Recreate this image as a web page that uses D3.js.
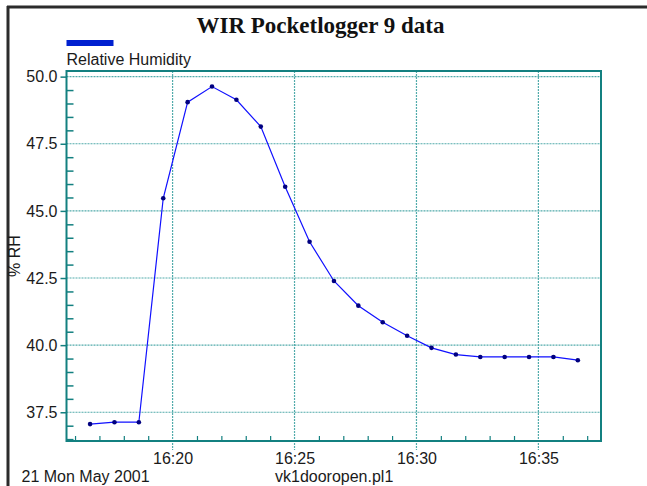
<!DOCTYPE html>
<html>
<head>
<meta charset="utf-8">
<script src="https://cdn.jsdelivr.net/npm/d3@7/dist/d3.min.js"></script>
<style>
  html, body { margin: 0; padding: 0; background: #fff; }
  svg { display: block; }
  text { font-family: "Liberation Sans", Arial, sans-serif; }
</style>
</head>
<body>
<svg id="chart" width="647" height="486"></svg>
<script>
// ---- data ----
const title = "WIR Pocketlogger 9 data";
const seriesName = "Relative Humidity";
const yLabel = "% RH";
const dateLabel = "21 Mon May 2001";
const fileLabel = "vk1dooropen.pl1";

const times = ["16:16:37","16:17:37","16:18:37","16:19:37","16:20:37","16:21:37","16:22:37",
               "16:23:37","16:24:37","16:25:37","16:26:37","16:27:37","16:28:37","16:29:37",
               "16:30:37","16:31:37","16:32:37","16:33:37","16:34:37","16:35:37","16:36:37"];
const rh = [37.06, 37.13, 37.13, 45.47, 49.05, 49.63, 49.14,
            48.14, 45.90, 43.85, 42.39, 41.47, 40.85, 40.35,
            39.90, 39.65, 39.56, 39.56, 39.56, 39.56, 39.44];

const xDomain = ["16:15:39", "16:37:34"];
const yDomain = [36.43, 50.21];
const xTickLabels = ["16:20", "16:25", "16:30", "16:35"];
const yTickValues = [37.5, 40.0, 42.5, 45.0, 47.5, 50.0];
const yMinorStep = 0.5;

// ---- layout ----
const plot = { left: 66.5, right: 601, top: 71, bottom: 441 };
const teal = "#138080";
const grid = "#52abab";
const fs = "16px";

const parseT = d3.timeParse("%H:%M:%S");
const parseHM = d3.timeParse("%H:%M");

const svg = d3.select("#chart");

const x = d3.scaleTime()
  .domain(xDomain.map(parseT))
  .range([plot.left, plot.right]);
const y = d3.scaleLinear()
  .domain(yDomain)
  .range([plot.bottom, plot.top]);

// outer border (top + left)
svg.append("line").attr("x1", 7).attr("x2", 647).attr("y1", 7).attr("y2", 7)
  .attr("stroke", "#2b2b2b").attr("stroke-width", 3);
svg.append("line").attr("x1", 8).attr("x2", 8).attr("y1", 6).attr("y2", 486)
  .attr("stroke", "#2b2b2b").attr("stroke-width", 3);

// title
svg.append("text")
  .attr("x", 320.5).attr("y", 33)
  .attr("text-anchor", "middle")
  .style("font-family", "'Liberation Serif', 'Times New Roman', serif")
  .style("font-weight", "bold")
  .style("font-size", "23px")
  .attr("fill", "#111")
  .text(title);

// legend
svg.append("rect").attr("x", 66.5).attr("y", 40).attr("width", 47).attr("height", 6)
  .attr("fill", "#0020d0");
svg.append("text").attr("x", 66.5).attr("y", 65)
  .style("font-size", fs).attr("fill", "#1a1a1a").text(seriesName);

const xMajor = xTickLabels.map(parseHM);
const xMinor = d3.timeMinute.range(x.domain()[0], x.domain()[1]);
const yMinor = d3.range(Math.ceil(yDomain[0] / yMinorStep) * yMinorStep, yDomain[1], yMinorStep)
  .filter(v => !yTickValues.some(t => Math.abs(t - v) < 1e-6));

// gridlines
const g = svg.append("g");
g.selectAll(".hg").data(yTickValues).join("line")
  .attr("x1", plot.left).attr("x2", plot.right)
  .attr("y1", d => y(d)).attr("y2", d => y(d))
  .attr("stroke", grid).attr("stroke-width", 1.2).attr("stroke-dasharray", "2,1");
g.selectAll(".vg").data(xMajor).join("line")
  .attr("x1", d => x(d)).attr("x2", d => x(d))
  .attr("y1", plot.top).attr("y2", plot.bottom + 9)
  .attr("stroke", grid).attr("stroke-width", 1.2).attr("stroke-dasharray", "2,1");

// y axis (major ticks outside)
const yAxis = d3.axisLeft(y).tickValues(yTickValues).tickFormat(d3.format(".1f"))
  .tickSize(6).tickPadding(3);
const ya = svg.append("g").attr("transform", `translate(${plot.left},0)`).call(yAxis);
ya.select(".domain").remove();
ya.selectAll(".tick line").attr("stroke", teal).attr("stroke-width", 1.5);
ya.selectAll(".tick text").style("font-size", fs).style("font-family", "'Liberation Sans', Arial, sans-serif").attr("fill", "#1a1a1a");

// y minor ticks (inside)
svg.append("g").attr("transform", `translate(${plot.left},0)`)
  .call(d3.axisRight(y).tickValues(yMinor).tickSize(7).tickFormat(""))
  .call(s => s.select(".domain").remove())
  .selectAll(".tick line").attr("stroke", teal).attr("stroke-width", 1.5);

// x axis labels
const xAxis = d3.axisBottom(x).tickValues(xMajor).tickFormat(d3.timeFormat("%H:%M"))
  .tickSize(0).tickPadding(12);
const xa = svg.append("g").attr("transform", `translate(0,${plot.bottom})`).call(xAxis);
xa.select(".domain").remove();
xa.selectAll(".tick text").style("font-size", fs).style("font-family", "'Liberation Sans', Arial, sans-serif").attr("fill", "#1a1a1a");

// x minor ticks (inside)
svg.append("g").attr("transform", `translate(0,${plot.bottom})`)
  .call(d3.axisTop(x).tickValues(xMinor.filter(t => !xMajor.some(m => +m === +t))).tickSize(5).tickFormat(""))
  .call(s => s.select(".domain").remove())
  .selectAll(".tick line").attr("stroke", teal).attr("stroke-width", 1.2);

// frame
svg.append("rect")
  .attr("x", plot.left).attr("y", plot.top)
  .attr("width", plot.right - plot.left).attr("height", plot.bottom - plot.top)
  .attr("fill", "none").attr("stroke", teal).attr("stroke-width", 2);

// axis title
svg.append("text")
  .attr("transform", `translate(20,${(plot.top + plot.bottom) / 2}) rotate(-90)`)
  .attr("text-anchor", "middle")
  .style("font-size", fs).attr("fill", "#1a1a1a")
  .text(yLabel);

// footer
svg.append("text").attr("x", 21.5).attr("y", 482).style("font-size", fs).attr("fill", "#1a1a1a").text(dateLabel);
svg.append("text").attr("x", 275).attr("y", 482).style("font-size", fs).attr("fill", "#1a1a1a").text(fileLabel);

// series
const data = times.map((t, i) => ({ t: parseT(t), v: rh[i] }));
svg.append("path").datum(data)
  .attr("fill", "none").attr("stroke", "#1010ff").attr("stroke-width", 1.2)
  .attr("d", d3.line().x(d => x(d.t)).y(d => y(d.v)));
svg.selectAll(".pt").data(data).join("circle")
  .attr("cx", d => x(d.t)).attr("cy", d => y(d.v)).attr("r", 2.3)
  .attr("fill", "#000080");
</script>
</body>
</html>
